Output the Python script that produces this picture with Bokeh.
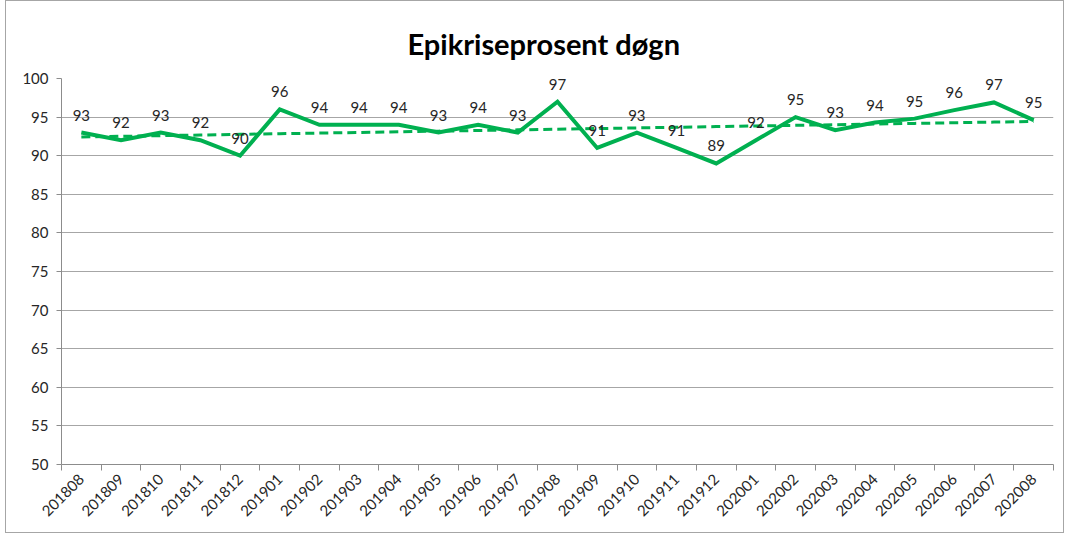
import numpy as np
from bokeh.plotting import figure
from bokeh.models import ColumnDataSource, FixedTicker, Title
from bokeh.core.properties import value
from bokeh.embed import file_html
from bokeh.resources import INLINE

title_text = "Epikriseprosent døgn"
categories = ["201808", "201809", "201810", "201811", "201812", "201901", "201902",
              "201903", "201904", "201905", "201906", "201907", "201908", "201909",
              "201910", "201911", "201912", "202001", "202002", "202003", "202004",
              "202005", "202006", "202007", "202008"]
values = [93.0, 92.0, 93.0, 92.0, 90.0, 96.0, 94.0, 94.0, 94.0, 93.0, 94.0, 93.0, 97.0,
          91.0, 93.0, 91.0, 89.0, 92.0, 95.0, 93.3, 94.3, 94.8, 95.9, 96.9, 94.6]
y_ticks = [50, 55, 60, 65, 70, 75, 80, 85, 90, 95, 100]

GREEN = "#00B050"
FONT = "Lato"

n = len(categories)
xs = np.arange(n)
coef = np.polyfit(xs, values, 1)
trend = np.polyval(coef, xs)

src = ColumnDataSource(dict(x=xs, y=values, trend=trend,
                            lbl=[str(int(round(v))) for v in values]))

p = figure(width=1059, height=533, output_backend="svg", toolbar_location=None,
           x_range=(-0.5, n - 0.5), y_range=(50, 100),
           min_border_left=55, min_border_right=12, min_border_top=77, min_border_bottom=70)
p.styles = {"border": "1px solid #a6a6a6", "box-sizing": "border-box", "margin-left": "5px"}

t = Title(text=title_text, align="left", text_font=FONT, text_font_size="29px",
          text_font_style="bold", text_color="#000000", offset=346, standoff=35)
p.add_layout(t, "above")

p.outline_line_color = None
p.background_fill_color = "white"
p.border_fill_color = "white"

p.xgrid.grid_line_color = None
p.ygrid.grid_line_color = "#a6a6a6"
p.ygrid.grid_line_width = 1
p.ygrid.ticker = FixedTicker(ticks=y_ticks)

# y axis
p.yaxis.ticker = FixedTicker(ticks=y_ticks)
p.yaxis.axis_line_color = "#8c8c8c"
p.yaxis.major_tick_line_color = "#8c8c8c"
p.yaxis.major_tick_out = 5
p.yaxis.major_tick_in = 0
p.yaxis.minor_tick_line_color = None
p.yaxis.major_label_text_font = FONT
p.yaxis.major_label_text_font_size = "15px"
p.yaxis.major_label_text_color = "#262626"
p.yaxis.major_label_standoff = 8

# x axis
boundaries = [i - 0.5 for i in range(n + 1)]
p.xaxis.ticker = FixedTicker(ticks=list(xs), minor_ticks=boundaries)
p.xaxis.major_label_overrides = {int(i): c for i, c in enumerate(categories)}
p.xaxis.major_tick_line_color = None
p.xaxis.minor_tick_line_color = "#8c8c8c"
p.xaxis.minor_tick_out = 6
p.xaxis.minor_tick_in = 0
p.xaxis.axis_line_color = "#8c8c8c"
p.xaxis.major_label_orientation = np.pi / 4
p.xaxis.major_label_text_font = FONT
p.xaxis.major_label_text_font_size = "15px"
p.xaxis.major_label_text_color = "#262626"
p.xaxis.major_label_standoff = 6

p.line("x", "trend", source=src, line_color=GREEN, line_width=3, line_dash="9 5")
p.line("x", "y", source=src, line_color=GREEN, line_width=4, line_join="miter")
p.text("x", "y", text="lbl", source=src, text_align="center", text_baseline="bottom",
       y_offset=-12, text_font=value(FONT), text_font_size="15px", text_color="#262626")

open("out.html", "w").write(file_html(p, INLINE))
